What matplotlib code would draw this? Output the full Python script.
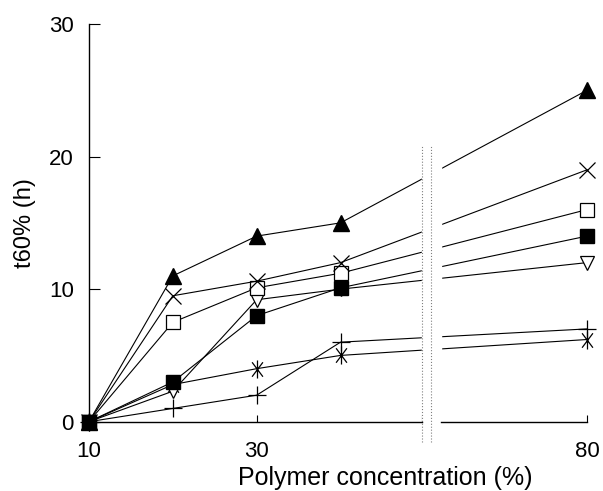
import matplotlib
matplotlib.use("Agg")
import matplotlib.pyplot as plt
from matplotlib.path import Path

plt.rcParams['font.family'] = ['Liberation Sans', 'DejaVu Sans']

# Polymer concentration (%) and t60% (h) for each formulation
conc = [10, 20, 30, 40, 80]
tri_filled = [0, 11, 14, 15, 25]
cross = [0, 9.5, 10.6, 12, 19]
sq_open = [0, 7.5, 10.1, 11.2, 16]
sq_filled = [0, 3, 8, 10.1, 14]
tri_down = [0, 2.3, 9.2, 10, 12]
plus = [0, 1, 2, 6, 7]
star = [0, 2.8, 4, 5, 6.2]

xtick_vals = [10, 30, 80]

# broken axis: everything above the break is shifted left
break_lo = 49.7
break_hi = 52.0
shift = 10.6

def to_axis(c):
    if c > 50:
        return c - shift
    return c

xpos = [to_axis(c) for c in conc]

# asterisk with vertical arm and two steep diagonals
star_marker = Path([(0, -1), (0, 1), (-0.6, -0.8), (0.6, 0.8), (-0.6, 0.8), (0.6, -0.8)],
                   [Path.MOVETO, Path.LINETO, Path.MOVETO, Path.LINETO, Path.MOVETO, Path.LINETO])

fig = plt.figure(figsize=(6.03, 4.91), dpi=100)
ax = fig.add_axes([89 / 603, 1 - 421.7 / 491, 498 / 603, 397.7 / 491])

lw = 0.8
common = dict(color='black', lw=lw, clip_on=False, zorder=2)
ax.plot(xpos, star, marker=star_marker, ms=13, mew=0.9, **common)
ax.plot(xpos, plus, marker='+', ms=13, mew=0.9, **common)
ax.plot(xpos, tri_down, marker='v', ms=10, mfc='white', mec='black', mew=0.9, **common)
ax.plot(xpos, sq_open, marker='s', ms=10, mfc='white', mec='black', mew=0.9, **common)
ax.plot(xpos, cross, marker='x', ms=11, mew=0.9, **common)
ax.plot(xpos, tri_filled, marker='^', ms=11, mfc='black', mec='black', **common)
ax.plot(xpos, sq_filled, marker='s', ms=10, mfc='black', mec='black', **common)

# white gap for the axis break, with dotted marks
ax.axvspan(break_lo, break_hi, color='white', zorder=3)
for bx in [break_lo, break_lo + 1.1]:
    ax.plot([bx, bx], [-1.5, 20.9], color='gray', ls=':', lw=0.8, clip_on=False, zorder=4)

ax.set_ylim(0, 30)
ax.set_xlim(10, to_axis(80))

# bottom axis drawn in two pieces
ax.spines['bottom'].set_visible(False)
ax.spines['top'].set_visible(False)
ax.spines['right'].set_visible(False)
ax.spines['left'].set_linewidth(1.0)
ax.plot([10, break_lo], [0, 0], color='black', lw=1.0, clip_on=False, zorder=5)
ax.plot([break_hi, to_axis(80)], [0, 0], color='black', lw=1.0, clip_on=False, zorder=5)

ax.set_yticks([0, 10, 20, 30])
ax.tick_params(axis='y', direction='in', length=8, width=0.8, labelsize=16, pad=11)
ax.set_xticks([to_axis(v) for v in xtick_vals])
ax.set_xticklabels([str(v) for v in xtick_vals])
ax.set_xticks([break_lo], minor=True)
ax.tick_params(axis='x', which='both', direction='in', length=5, width=0.8, labelsize=16, pad=14)

ax.set_ylabel('t60% (h)', fontsize=17, labelpad=9)
fig.text(385 / 603, 1 - 485 / 491, 'Polymer concentration (%)', fontsize=18,
         ha='center', va='baseline')

fig.savefig('out.png', dpi=100)
